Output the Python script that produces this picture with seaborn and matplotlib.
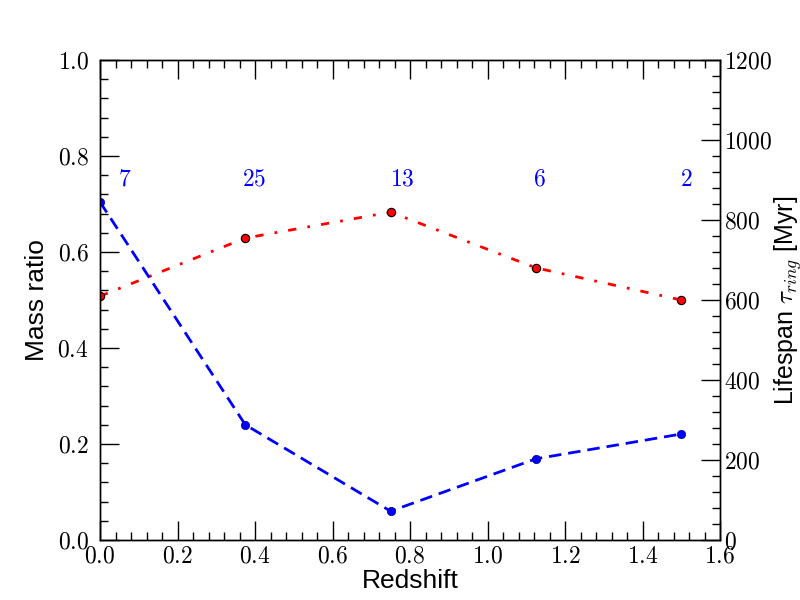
import matplotlib
matplotlib.use("Agg")
import matplotlib.pyplot as plt
import seaborn as sns
import pandas as pd
from matplotlib.ticker import MultipleLocator, FuncFormatter

sns.set_style("white")
plt.rcParams["mathtext.fontset"] = "cm"
plt.rcParams["font.family"] = ["Liberation Sans", "DejaVu Sans"]
plt.rcParams["text.color"] = "black"
plt.rcParams["axes.labelcolor"] = "black"
plt.rcParams["xtick.color"] = "black"
plt.rcParams["ytick.color"] = "black"

# ------------------------------------------------------------------
# Data
# ------------------------------------------------------------------
redshift = [0.0, 0.375, 0.75, 1.125, 1.5]
mass_ratio = [0.508, 0.629, 0.683, 0.567, 0.50]
lifespan_myr = [845, 288, 72, 203, 265]
ring_counts = ["7", "25", "13", "6", "2"]
count_x = [0.046, 0.366, 0.748, 1.117, 1.497]
count_y = 0.75

df = pd.DataFrame({"z": redshift, "mass": mass_ratio, "life": lifespan_myr})

fig, ax = plt.subplots(figsize=(8, 6), dpi=100)
fig.subplots_adjust(left=0.125, right=0.9, bottom=0.1, top=0.9)
ax2 = ax.twinx()

sns.lineplot(data=df, x="z", y="mass", ax=ax, color="red", lw=2,
             linestyle=(0, (3, 4, 1, 4)), marker="o", markersize=6,
             markerfacecolor="red", markeredgecolor="black", markeredgewidth=0.8)
sns.lineplot(data=df, x="z", y="life", ax=ax2, color="blue", lw=2,
             linestyle=(0, (4.5, 2.5)), marker="o", markersize=6,
             markerfacecolor="blue", markeredgecolor="#000080", markeredgewidth=0.5)

for xx, t in zip(count_x, ring_counts):
    ax.text(xx, count_y, "$" + t + "$", color="blue", fontsize=17,
            ha="left", va="center")

ax.set_xlim(0, 1.6)
ax.set_ylim(0, 1.0)
ax2.set_ylim(0, 1200)

math_fmt = lambda d: FuncFormatter(lambda v, p: "$%.*f$" % (d, v))
ax.xaxis.set_major_locator(MultipleLocator(0.2))
ax.xaxis.set_minor_locator(MultipleLocator(0.04))
ax.yaxis.set_major_locator(MultipleLocator(0.2))
ax.yaxis.set_minor_locator(MultipleLocator(0.04))
ax2.yaxis.set_major_locator(MultipleLocator(200))
ax2.yaxis.set_minor_locator(MultipleLocator(40))
ax.xaxis.set_major_formatter(math_fmt(1))
ax.yaxis.set_major_formatter(math_fmt(1))
ax2.yaxis.set_major_formatter(math_fmt(0))

ax.tick_params(which="both", direction="in", top=True, bottom=True,
               left=True, right=False, labelsize=17, color="black",
               labelcolor="black", width=1)
ax.tick_params(which="major", length=14)
ax.tick_params(which="minor", length=6)
ax.tick_params(axis="y", pad=8)
ax.tick_params(axis="x", pad=4)
ax2.tick_params(which="both", direction="in", left=False, right=True,
                labelsize=17, color="black", labelcolor="black", width=1, pad=3)
ax2.tick_params(which="major", length=14)
ax2.tick_params(which="minor", length=6)

for a in (ax, ax2):
    for s in a.spines.values():
        s.set_color("black")
        s.set_linewidth(1)

ax.set_xlabel("Redshift", fontsize=19, labelpad=1, color="black")
ax.set_ylabel("Mass ratio", fontsize=19, labelpad=6, color="black")
ax2.set_ylabel(r"Lifespan $\tau_{ring}$ [Myr]", fontsize=18, labelpad=0,
               color="black")

plt.savefig("out.png")
